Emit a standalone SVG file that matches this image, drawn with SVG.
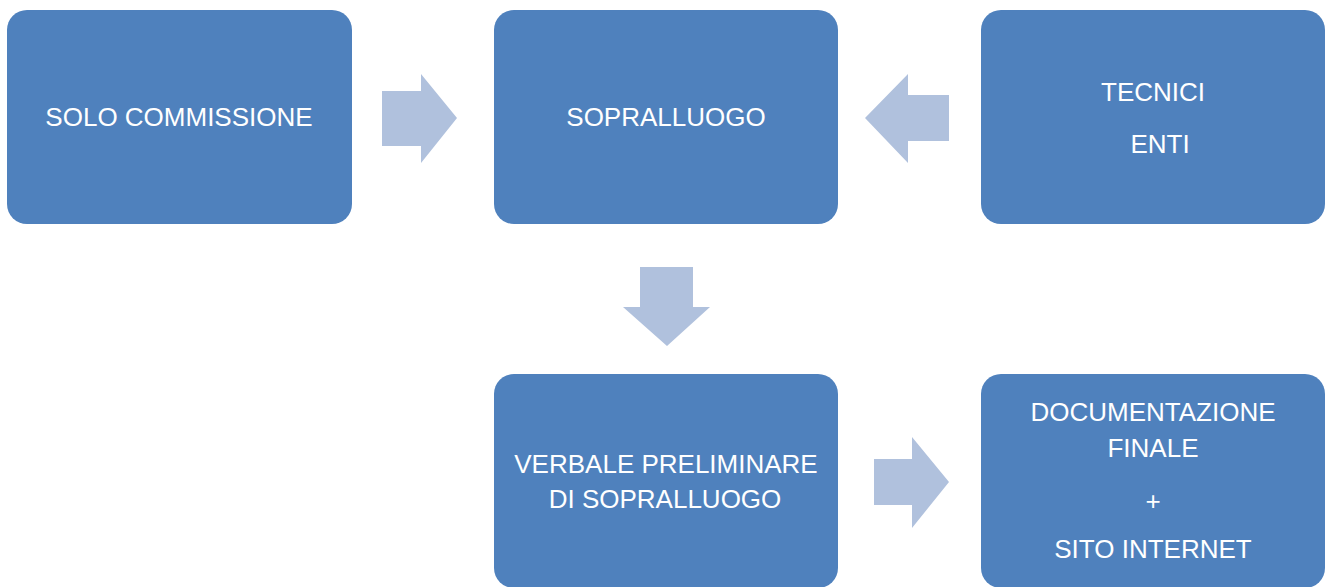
<svg xmlns="http://www.w3.org/2000/svg" width="1332" height="587" viewBox="0 0 1332 587">
<style>
.box{fill:#4F81BD;}
.arr{fill:#B0C1DD;}
text{font-family:"Liberation Sans",Arial,sans-serif;font-size:26px;fill:#FFFFFF;text-anchor:middle;}
</style>
<rect width="1332" height="587" fill="#FFFFFF"/>
<g id="connectors">
<polygon class="arr" points="382,91 421,91 421,74 457,118 421,163 421,146 382,146"/>
<polygon class="arr" points="949,95 908,95 908,74 865,118 908,163 908,141 949,141"/>
<polygon class="arr" points="640,267 693,267 693,307 710,307 667,346 623,307 640,307"/>
<polygon class="arr" points="874,459 912,459 912,437 949,482 912,528 912,505 874,505"/>
</g>
<g id="node-solo">
<rect class="box" x="7" y="10" width="345" height="214" rx="20"/>
<text x="179" y="126">SOLO COMMISSIONE</text>
</g>
<g id="node-sopralluogo">
<rect class="box" x="494" y="10" width="344" height="214" rx="20"/>
<text x="666" y="126">SOPRALLUOGO</text>
</g>
<g id="node-tecnici">
<rect class="box" x="981" y="10" width="344" height="214" rx="20"/>
<text x="1153" y="101">TECNICI</text>
<text x="1160" y="153">ENTI</text>
</g>
<g id="node-verbale">
<rect class="box" x="494" y="374" width="344" height="214" rx="20"/>
<text x="666" y="473">VERBALE PRELIMINARE</text>
<text x="665" y="508">DI SOPRALLUOGO</text>
</g>
<g id="node-documentazione">
<rect class="box" x="981" y="374" width="344" height="214" rx="20"/>
<text x="1153" y="421">DOCUMENTAZIONE</text>
<text x="1153" y="457">FINALE</text>
<text x="1153" y="510">+</text>
<text x="1153" y="558">SITO INTERNET</text>
</g>
</svg>
